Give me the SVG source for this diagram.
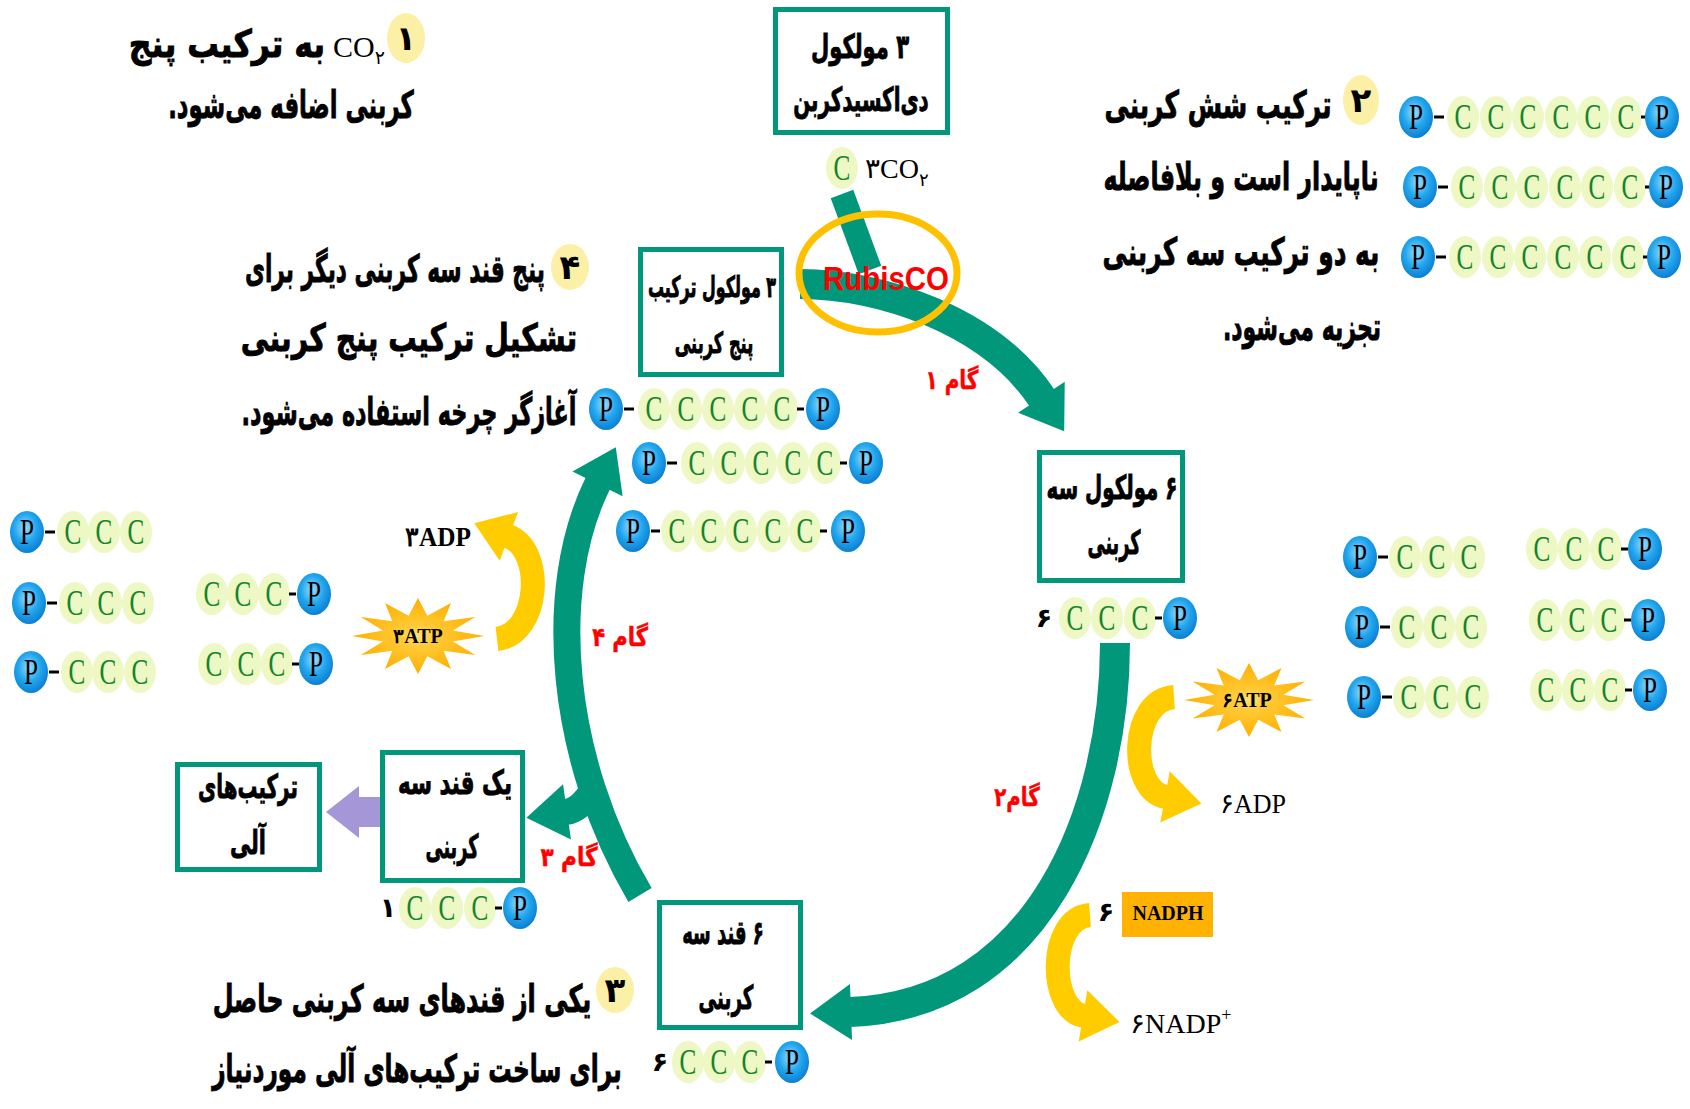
<svg xmlns="http://www.w3.org/2000/svg" width="1690" height="1109" viewBox="0 0 1690 1109">
<style>
.fa{font-family:"DejaVu Sans",sans-serif;font-weight:bold;fill:#000;stroke:#000;stroke-width:0.9px;direction:rtl;text-anchor:middle}
.body{font-size:38px}
.bx{font-size:33px}
.bxs{font-size:29px}
.red{font-size:26px;fill:#FF0000;stroke:#FF0000;stroke-width:0.5px}
.box{fill:#fff;stroke:#00977A;stroke-width:5}
.num{fill:#FCEFA6}
.numt{font-family:"DejaVu Sans",sans-serif;font-weight:bold;font-size:34px;text-anchor:middle;fill:#000}
.lat{font-family:"Liberation Serif","DejaVu Serif",serif;fill:#000}
.teal{fill:none;stroke:#00977A;stroke-width:30}
.yel{fill:none;stroke:#FFCC00;stroke-width:24}
.ml{font-family:"Liberation Serif",serif;font-size:36px;text-anchor:middle}
.dash{fill:#000}
.dg{font-family:"DejaVu Sans",sans-serif;font-size:27px;font-weight:bold;text-anchor:middle;fill:#000}
</style>
<defs>
<radialGradient id="pg" cx="0.45" cy="0.4" r="0.6"><stop offset="0" stop-color="#9BDCFF"/><stop offset="0.55" stop-color="#22A7EE"/><stop offset="1" stop-color="#0C7FD2"/></radialGradient>
<radialGradient id="sg"><stop offset="0" stop-color="#FFE27A"/><stop offset="0.25" stop-color="#FFCB3A"/><stop offset="1" stop-color="#FFB000"/></radialGradient>
<g id="C"><ellipse rx="16" ry="21" fill="#EDF8C4"/><text class="ml" y="12" transform="scale(0.7,1)" fill="#15842A">C</text></g>
<g id="P"><ellipse rx="17" ry="21" fill="url(#pg)"/><text class="ml" y="12" transform="scale(0.7,1)" fill="#000">P</text></g>
<polygon id="star" points="1,0 0.531,0.142 0.866,0.5 0.389,0.389 0.5,0.866 0.142,0.531 0,1 -0.142,0.531 -0.5,0.866 -0.389,0.389 -0.866,0.5 -0.531,0.142 -1,0 -0.531,-0.142 -0.866,-0.5 -0.389,-0.389 -0.5,-0.866 -0.142,-0.531 0,-1 0.142,-0.531 0.5,-0.866 0.389,-0.389 0.866,-0.5 0.531,-0.142"/>
<marker id="ht" markerUnits="userSpaceOnUse" orient="auto" overflow="visible" markerWidth="1" markerHeight="1" refX="0" refY="0"><path d="M-1,-28 L40,0 L-1,28 z" fill="#00977A"/></marker>
<marker id="hy" markerUnits="userSpaceOnUse" orient="auto" overflow="visible" markerWidth="1" markerHeight="1" refX="0" refY="0"><path d="M-1,-26 L36,0 L-1,26 z" fill="#FFCC00"/></marker>
<marker id="hp" markerUnits="userSpaceOnUse" orient="auto" overflow="visible" markerWidth="1" markerHeight="1" refX="0" refY="0"><path d="M-1,-26 L32,0 L-1,26 z" fill="#A596D8"/></marker>
</defs>
<rect width="1690" height="1109" fill="#fff"/>

<g id="connectors">
<path class="teal" d="M800,284 C880,284 990,320 1042,398" marker-end="url(#ht)"/>
<path class="teal" d="M842,194 L870,270" style="stroke-width:24"/>
<path class="teal" d="M1115,643 C1115,810 1040,1005 850,1012" marker-end="url(#ht)"/>
<path class="teal" d="M640,895 C560,760 545,590 598,483" style="stroke-width:27" marker-end="url(#ht)"/>
<path class="teal" d="M592,791 Q580,810 566,812" style="stroke-width:26" marker-end="url(#ht)"/>
<path class="yel" d="M497,639 C540,634 545,550 508,536" marker-end="url(#hy)"/>
<path class="yel" d="M1174,697 C1130,700 1128,790 1166,797" marker-end="url(#hy)"/>
<path class="yel" d="M1090,915 C1048,918 1048,1010 1084,1016" marker-end="url(#hy)"/>
<path d="M380,812 L358,812" fill="none" stroke="#A596D8" stroke-width="30" marker-end="url(#hp)"/>
</g>

<g id="rubisco">
<ellipse cx="878" cy="273" rx="79" ry="59" fill="none" stroke="#FFC000" stroke-width="7"/>
<text x="886" y="290" font-family="Liberation Sans, Arial, sans-serif" font-weight="bold" font-size="34" fill="#FF0000" text-anchor="middle" textLength="126" lengthAdjust="spacingAndGlyphs">RubisCO</text>
</g>

<g id="note1">
<ellipse class="num" cx="406" cy="38" rx="19" ry="25"/>
<text class="numt" x="406" y="50">۱</text>
<text class="lat" x="333" y="57" font-size="30">CO<tspan font-size="19" dy="7" font-family="DejaVu Sans, sans-serif">۲</tspan></text>
<text class="fa body" transform="translate(227,57) scale(0.83,1)">به ترکیب پنج</text>
<text class="fa body" transform="translate(291,118) scale(0.6,1)">کربنی اضافه می‌شود.</text>
</g>

<g id="note2">
<ellipse class="num" cx="1361" cy="100" rx="18" ry="25"/>
<text class="numt" x="1361" y="112">۲</text>
<text class="fa body" transform="translate(1218,118) scale(0.654,1)">ترکیب شش کربنی</text>
<text class="fa body" transform="translate(1241,190) scale(0.626,1)">ناپایدار است و بلافاصله</text>
<text class="fa body" transform="translate(1241,265) scale(0.654,1)">به دو ترکیب سه کربنی</text>
<text class="fa body" transform="translate(1302,340) scale(0.58,1)">تجزیه می‌شود.</text>
</g>

<g id="note4">
<ellipse class="num" cx="570" cy="267" rx="19" ry="23"/>
<text class="numt" x="570" y="279">۴</text>
<text class="fa body" transform="translate(395,282) scale(0.571,1)">پنج قند سه کربنی دیگر برای</text>
<text class="fa body" transform="translate(409,351) scale(0.746,1)">تشکیل ترکیب پنج کربنی</text>
<text class="fa body" transform="translate(409,425) scale(0.589,1)">آغازگر چرخه استفاده می‌شود.</text>
</g>

<g id="note3">
<ellipse class="num" cx="615" cy="990" rx="19" ry="23"/>
<text class="numt" x="615" y="1002">۳</text>
<text class="fa body" transform="translate(402,1012) scale(0.631,1)">یکی از قندهای سه کربنی حاصل</text>
<text class="fa body" transform="translate(417,1082) scale(0.612,1)">برای ساخت ترکیب‌های آلی موردنیاز</text>
</g>

<g id="box-co2">
<rect class="box" x="775.5" y="9.5" width="172" height="123"/>
<text class="fa bx" transform="translate(860,58) scale(0.639,1)">۳ مولکول</text>
<text class="fa bx" transform="translate(861,111) scale(0.601,1)">دی‌اکسیدکربن</text>
</g>
<g id="co2-mol">
<use href="#C" x="842" y="168"/>
<text class="lat" x="865" y="178" font-size="28">۳CO<tspan font-size="18" dy="8" font-family="DejaVu Sans, sans-serif">۲</tspan></text>
</g>

<g id="box-rubp">
<rect class="box" x="640.5" y="249.5" width="141" height="125"/>
<text class="fa bxs" transform="translate(712,297) scale(0.549,1)">۳ مولکول ترکیب</text>
<text class="fa bxs" transform="translate(714,353) scale(0.559,1)">پنج کربنی</text>
</g>

<g id="box-pga">
<rect class="box" x="1039.5" y="452.5" width="143" height="128"/>
<text class="fa bx" transform="translate(1112,499) scale(0.601,1)">۶ مولکول سه</text>
<text class="fa bx" transform="translate(1114,554) scale(0.535,1)">کربنی</text>
</g>

<g id="box-g3p-one">
<rect class="box" x="382.5" y="752.5" width="140" height="128"/>
<text class="fa bx" transform="translate(455,794) scale(0.648,1)">یک قند سه</text>
<text class="fa bx" transform="translate(452,858) scale(0.535,1)">کربنی</text>
</g>

<g id="box-organic">
<rect class="box" x="177.5" y="764.5" width="142" height="105"/>
<text class="fa bx" transform="translate(248,798) scale(0.601,1)">ترکیب‌های</text>
<text class="fa bx" transform="translate(248,854) scale(0.629,1)">آلی</text>
</g>

<g id="box-g3p-six">
<rect class="box" x="659.5" y="902.5" width="141" height="125"/>
<text class="fa bx" transform="translate(723,944) scale(0.545,1)">۶ قند سه</text>
<text class="fa bx" transform="translate(726,1009) scale(0.554,1)">کربنی</text>
</g>

<g id="labels">
<text class="fa red" transform="translate(952,389) scale(0.77,1)">گام ۱</text>
<text class="fa red" transform="translate(1017,806) scale(0.76,1)">گام۲</text>
<text class="fa red" transform="translate(620,646) scale(0.81,1)">گام ۴</text>
<text class="fa red" transform="translate(569,866) scale(0.83,1)">گام ۳</text>
</g>

<g id="atp-left">
<use href="#star" transform="translate(418,636) scale(66,38)" fill="url(#sg)"/>
<text class="lat" x="418" y="643" font-size="20" font-weight="bold" text-anchor="middle">۳ATP</text>
<text class="lat" x="405" y="546" font-size="27" font-weight="bold" textLength="66" lengthAdjust="spacingAndGlyphs">۳ADP</text>
</g>

<g id="atp-right">
<use href="#star" transform="translate(1249,700) scale(65,37)" fill="url(#sg)"/>
<text class="lat" x="1247" y="707" font-size="20" font-weight="bold" text-anchor="middle">۶ATP</text>
<text class="lat" x="1220" y="813" font-size="28" textLength="66" lengthAdjust="spacingAndGlyphs">۶ADP</text>
</g>

<g id="nadph">
<rect x="1122" y="892" width="91" height="45" fill="#FFB300"/>
<text class="lat" x="1168" y="920" font-size="20" font-weight="bold" text-anchor="middle">NADPH</text>
<text class="dg" x="1106" y="921">۶</text>
<text class="lat" x="1130" y="1033" font-size="28">۶NADP<tspan font-size="18" dy="-12">+</tspan></text>
</g>

<g id="chains-6c">
<g transform="translate(0,117)"><use href="#P" x="1416"/><rect class="dash" x="1434" y="-1.5" width="10" height="3"/><use href="#C" x="1463"/><use href="#C" x="1496"/><use href="#C" x="1528"/><use href="#C" x="1561"/><use href="#C" x="1593"/><use href="#C" x="1626"/><rect class="dash" x="1641" y="-1.5" width="6" height="3"/><use href="#P" x="1662"/></g>
<g transform="translate(0,187)"><use href="#P" x="1420"/><rect class="dash" x="1438" y="-1.5" width="10" height="3"/><use href="#C" x="1467"/><use href="#C" x="1500"/><use href="#C" x="1532"/><use href="#C" x="1565"/><use href="#C" x="1597"/><use href="#C" x="1630"/><rect class="dash" x="1645" y="-1.5" width="6" height="3"/><use href="#P" x="1666"/></g>
<g transform="translate(0,257)"><use href="#P" x="1418"/><rect class="dash" x="1436" y="-1.5" width="10" height="3"/><use href="#C" x="1465"/><use href="#C" x="1498"/><use href="#C" x="1530"/><use href="#C" x="1563"/><use href="#C" x="1595"/><use href="#C" x="1628"/><rect class="dash" x="1643" y="-1.5" width="6" height="3"/><use href="#P" x="1664"/></g>
</g>

<g id="chains-5c">
<g transform="translate(0,409)"><use href="#P" x="606"/><rect class="dash" x="624" y="-1.5" width="10" height="3"/><use href="#C" x="654"/><use href="#C" x="686"/><use href="#C" x="718"/><use href="#C" x="750"/><use href="#C" x="782"/><rect class="dash" x="797" y="-1.5" width="7" height="3"/><use href="#P" x="823"/></g>
<g transform="translate(0,463)"><use href="#P" x="649"/><rect class="dash" x="667" y="-1.5" width="10" height="3"/><use href="#C" x="697"/><use href="#C" x="729"/><use href="#C" x="761"/><use href="#C" x="793"/><use href="#C" x="825"/><rect class="dash" x="840" y="-1.5" width="7" height="3"/><use href="#P" x="866"/></g>
<g transform="translate(0,531)"><use href="#P" x="633"/><rect class="dash" x="651" y="-1.5" width="9" height="3"/><use href="#C" x="677"/><use href="#C" x="709"/><use href="#C" x="741"/><use href="#C" x="773"/><use href="#C" x="805"/><rect class="dash" x="820" y="-1.5" width="7" height="3"/><use href="#P" x="848"/></g>
</g>

<g id="chains-3c-right">
<g transform="translate(0,557)"><use href="#P" x="1360"/><rect class="dash" x="1378" y="-1.5" width="10" height="3"/><use href="#C" x="1405"/><use href="#C" x="1437"/><use href="#C" x="1469"/></g>
<g transform="translate(0,627)"><use href="#P" x="1362"/><rect class="dash" x="1380" y="-1.5" width="10" height="3"/><use href="#C" x="1407"/><use href="#C" x="1439"/><use href="#C" x="1471"/></g>
<g transform="translate(0,697)"><use href="#P" x="1364"/><rect class="dash" x="1382" y="-1.5" width="10" height="3"/><use href="#C" x="1409"/><use href="#C" x="1441"/><use href="#C" x="1473"/></g>
<g transform="translate(0,549)"><use href="#C" x="1542"/><use href="#C" x="1574"/><use href="#C" x="1606"/><rect class="dash" x="1621" y="-1.5" width="7" height="3"/><use href="#P" x="1645"/></g>
<g transform="translate(0,620)"><use href="#C" x="1545"/><use href="#C" x="1577"/><use href="#C" x="1609"/><rect class="dash" x="1624" y="-1.5" width="7" height="3"/><use href="#P" x="1648"/></g>
<g transform="translate(0,690)"><use href="#C" x="1546"/><use href="#C" x="1578"/><use href="#C" x="1610"/><rect class="dash" x="1625" y="-1.5" width="7" height="3"/><use href="#P" x="1650"/></g>
</g>

<g id="chains-3c-left">
<g transform="translate(0,532)"><use href="#P" x="27"/><rect class="dash" x="45" y="-1.5" width="10" height="3"/><use href="#C" x="73"/><use href="#C" x="104"/><use href="#C" x="136"/></g>
<g transform="translate(0,603)"><use href="#P" x="29"/><rect class="dash" x="47" y="-1.5" width="10" height="3"/><use href="#C" x="75"/><use href="#C" x="106"/><use href="#C" x="138"/></g>
<g transform="translate(0,672)"><use href="#P" x="31"/><rect class="dash" x="49" y="-1.5" width="10" height="3"/><use href="#C" x="77"/><use href="#C" x="108"/><use href="#C" x="140"/></g>
<g transform="translate(0,594)"><use href="#C" x="212"/><use href="#C" x="243"/><use href="#C" x="274"/><rect class="dash" x="289" y="-1.5" width="7" height="3"/><use href="#P" x="314"/></g>
<g transform="translate(0,664)"><use href="#C" x="214"/><use href="#C" x="246"/><use href="#C" x="277"/><rect class="dash" x="292" y="-1.5" width="7" height="3"/><use href="#P" x="316"/></g>
</g>

<g id="pga-mol" transform="translate(0,618)">
<text class="dg" x="1044" y="9">۶</text>
<use href="#C" x="1075"/><use href="#C" x="1107"/><use href="#C" x="1140"/><rect class="dash" x="1155" y="-1.5" width="7" height="3"/><use href="#P" x="1180"/>
</g>
<g id="g3p-one-mol" transform="translate(0,908)">
<text class="dg" x="388" y="9">۱</text>
<use href="#C" x="415"/><use href="#C" x="447"/><use href="#C" x="480"/><rect class="dash" x="495" y="-1.5" width="7" height="3"/><use href="#P" x="520"/>
</g>
<g id="g3p-six-mol" transform="translate(0,1062)">
<text class="dg" x="660" y="9">۶</text>
<use href="#C" x="688"/><use href="#C" x="719"/><use href="#C" x="750"/><rect class="dash" x="765" y="-1.5" width="7" height="3"/><use href="#P" x="792"/>
</g>
</svg>
